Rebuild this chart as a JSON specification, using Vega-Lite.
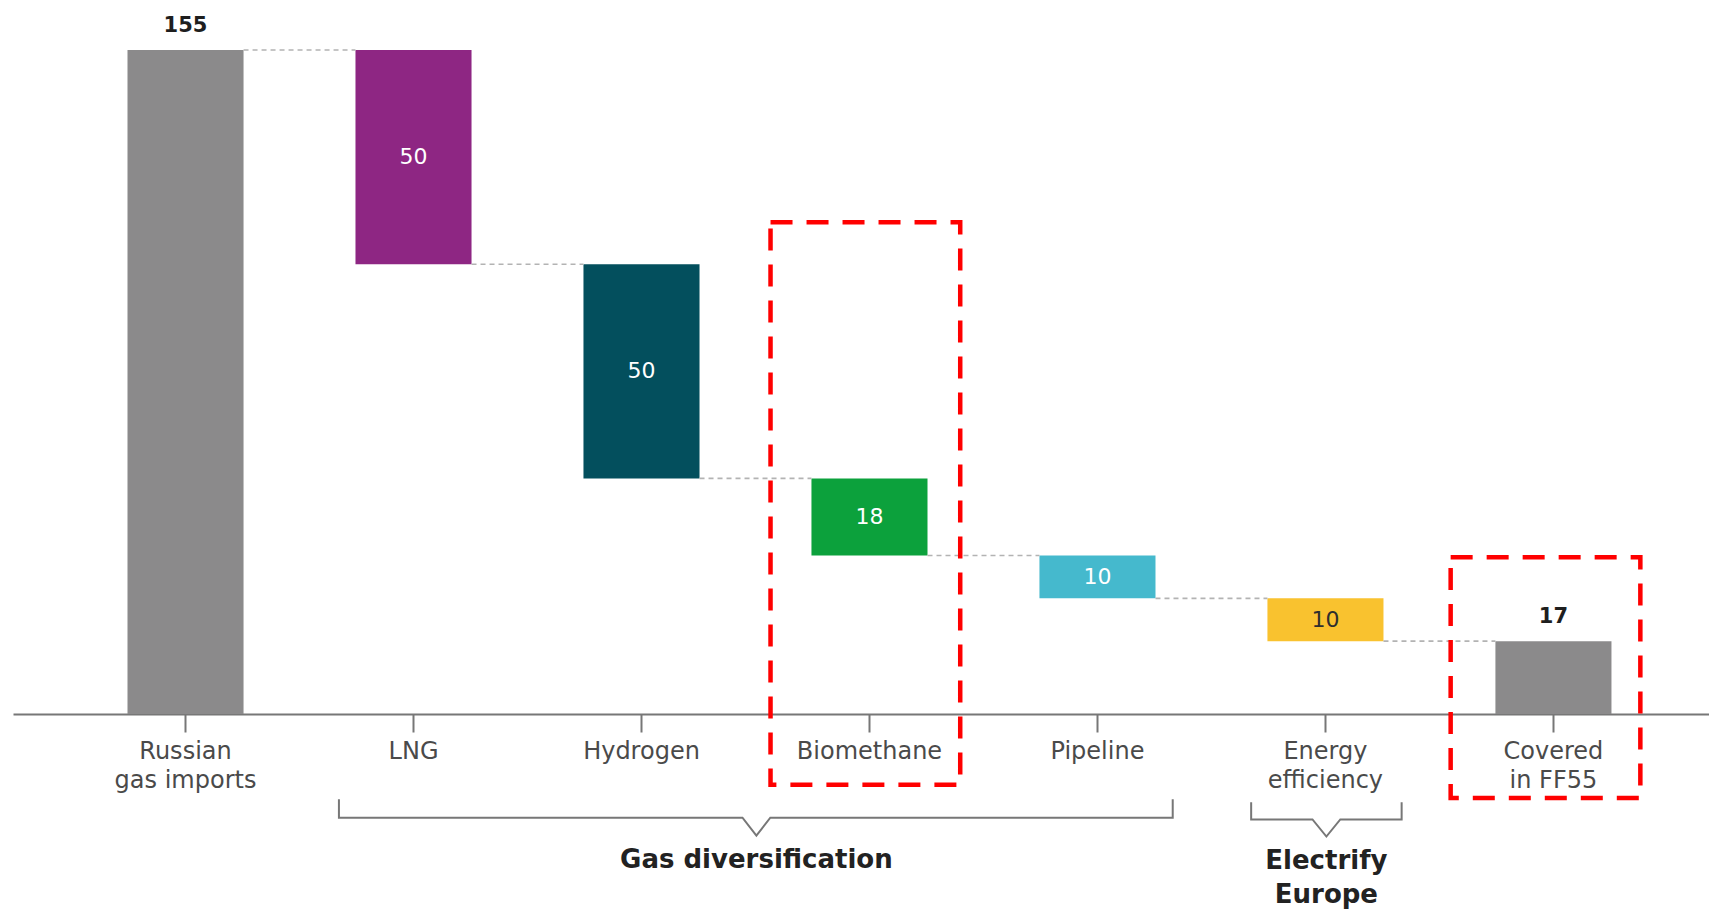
{
  "$schema": "https://vega.github.io/schema/vega-lite/v6.json",
  "width": 1696,
  "height": 664,
  "autosize": "none",
  "padding": {"left": 13, "top": 50, "right": 0, "bottom": 195},
  "background": "white",
  "config": {"view": {"stroke": null}, "font": "DejaVu Sans"},
  "datasets": {
    "steps": [
      {"cat": "Russian gas imports", "kind": "total", "value": 155, "start": 0, "end": 155, "next": "LNG"},
      {"cat": "LNG", "kind": "step", "value": 50, "start": 155, "end": 105, "next": "Hydrogen"},
      {"cat": "Hydrogen", "kind": "step", "value": 50, "start": 105, "end": 55, "next": "Biomethane"},
      {"cat": "Biomethane", "kind": "step", "value": 18, "start": 55, "end": 37, "next": "Pipeline"},
      {"cat": "Pipeline", "kind": "step", "value": 10, "start": 37, "end": 27, "next": "Energy efficiency"},
      {"cat": "Energy efficiency", "kind": "step", "value": 10, "start": 27, "end": 17, "next": "Covered in FF55"},
      {"cat": "Covered in FF55", "kind": "total", "value": 17, "start": 0, "end": 17, "next": null}
    ],
    "bracketPath": [
      {"group": "Gas diversification", "o": 1, "px": 0.673, "py": -19.9},
      {"group": "Gas diversification", "o": 2, "px": 0.673, "py": -24.2},
      {"group": "Gas diversification", "o": 3, "px": 2.443, "py": -24.2},
      {"group": "Gas diversification", "o": 4, "px": 2.504, "py": -28.4},
      {"group": "Gas diversification", "o": 5, "px": 2.565, "py": -24.2},
      {"group": "Gas diversification", "o": 6, "px": 4.330, "py": -24.2},
      {"group": "Gas diversification", "o": 7, "px": 4.330, "py": -19.9},
      {"group": "Electrify Europe", "o": 1, "px": 4.674, "py": -20.6},
      {"group": "Electrify Europe", "o": 2, "px": 4.674, "py": -24.6},
      {"group": "Electrify Europe", "o": 3, "px": 4.943, "py": -24.6},
      {"group": "Electrify Europe", "o": 4, "px": 5.004, "py": -28.6},
      {"group": "Electrify Europe", "o": 5, "px": 5.065, "py": -24.6},
      {"group": "Electrify Europe", "o": 6, "px": 5.334, "py": -24.6},
      {"group": "Electrify Europe", "o": 7, "px": 5.334, "py": -20.6}
    ],
    "groupLabels": [
      {"group": "Gas diversification", "lines": ["Gas diversification"], "mx": 2.504, "my": -34.1},
      {"group": "Electrify Europe", "lines": ["Electrify", "Europe"], "mx": 5.004, "my": -34.2}
    ],
    "boxes": [
      {"box": "Biomethane", "x0": 2.566, "x1": 3.398, "y0": -16.5, "y1": 114.8},
      {"box": "Covered in FF55", "x0": 5.549, "x1": 6.381, "y0": -19.6, "y1": 36.6}
    ]
  },
  "resolve": {"scale": {"x": "independent"}},
  "layer": [
    {
      "data": {"name": "steps"},
      "layer": [
        {
          "mark": {"type": "bar"},
          "encoding": {
            "x": {"field": "cat", "type": "nominal",
              "scale": {"domain": ["Russian gas imports", "LNG", "Hydrogen", "Biomethane", "Pipeline", "Energy efficiency", "Covered in FF55"], "paddingInner": 0.491, "paddingOuter": 0.465, "align": 0.54, "round": false},
              "axis": {
                "title": null, "labelAngle": 0, "grid": false,
                "labelExpr": "datum.label == 'Russian gas imports' ? ['Russian', 'gas imports'] : datum.label == 'Energy efficiency' ? ['Energy', 'efficiency'] : datum.label == 'Covered in FF55' ? ['Covered', 'in FF55'] : datum.label",
                "labelFont": "DejaVu Sans", "labelFontSize": 24, "labelColor": "#4a4a4a",
                "labelLineHeight": 29, "labelPadding": 7, "labelOverlap": false, "labelBound": false,
                "tickSize": 18, "tickWidth": 2, "tickColor": "#777777",
                "domainColor": "#777777", "domainWidth": 2
              }},
            "y": {"field": "start", "type": "quantitative", "scale": {"domain": [0, 155], "nice": false, "zero": true}, "axis": null},
            "y2": {"field": "end"},
            "color": {"field": "cat", "type": "nominal", "legend": null,
              "scale": {"domain": ["Russian gas imports", "LNG", "Hydrogen", "Biomethane", "Pipeline", "Energy efficiency", "Covered in FF55"],
                "range": ["#8b8a8b", "#8e2683", "#034f5d", "#0ca13c", "#45b9cd", "#f9c22f", "#8b8a8b"]}}
          }
        },
        {
          "transform": [{"filter": "datum.next != null"}],
          "mark": {"type": "rule", "color": "#b3b3b3", "strokeWidth": 1.6, "strokeDash": [5, 4]},
          "encoding": {
            "x": {"field": "cat", "type": "nominal", "bandPosition": 1},
            "x2": {"field": "next", "bandPosition": 0},
            "y": {"field": "end", "type": "quantitative", "scale": {"domain": [0, 155], "nice": false, "zero": true}, "axis": null}
          }
        },
        {
          "transform": [{"filter": "datum.kind == 'total'"}],
          "mark": {"type": "text", "baseline": "alphabetic", "dy": -18, "fontSize": 21, "fontWeight": "bold", "color": "#1e1e1e"},
          "encoding": {
            "x": {"field": "cat", "type": "nominal"},
            "y": {"field": "end", "type": "quantitative", "scale": {"domain": [0, 155], "nice": false, "zero": true}, "axis": null},
            "text": {"field": "value", "type": "quantitative"}
          }
        },
        {
          "transform": [
            {"filter": "datum.kind == 'step'"},
            {"fold": ["start", "end"], "as": ["k", "v"]}
          ],
          "mark": {"type": "text", "baseline": "middle", "fontSize": 22},
          "encoding": {
            "x": {"field": "cat", "type": "nominal"},
            "y": {"aggregate": "mean", "field": "v", "type": "quantitative", "scale": {"domain": [0, 155], "nice": false, "zero": true}, "axis": null},
            "text": {"aggregate": "max", "field": "value", "type": "quantitative"},
            "color": {"condition": {"test": "datum.cat == 'Energy efficiency'", "value": "#2e2e2e"}, "value": "#ffffff"}
          }
        }
      ]
    },
    {
      "layer": [
        {
          "data": {"name": "bracketPath"},
          "mark": {"type": "line", "color": "#777777", "strokeWidth": 2},
          "encoding": {
            "x": {"field": "px", "type": "quantitative", "scale": {"domain": [-0.7565, 6.6821], "nice": false, "zero": false}, "axis": null},
            "y": {"field": "py", "type": "quantitative", "scale": {"domain": [0, 155], "nice": false, "zero": true}, "axis": null},
            "detail": {"field": "group", "type": "nominal"},
            "order": {"field": "o", "type": "quantitative"}
          }
        },
        {
          "data": {"name": "groupLabels"},
          "mark": {"type": "text", "baseline": "middle", "align": "center", "fontSize": 26, "fontWeight": "bold", "color": "#222222", "lineHeight": 34},
          "encoding": {
            "x": {"field": "mx", "type": "quantitative"},
            "y": {"field": "my", "type": "quantitative", "scale": {"domain": [0, 155], "nice": false, "zero": true}, "axis": null},
            "text": {"field": "lines"}
          }
        },
        {
          "data": {"name": "boxes"},
          "mark": {"type": "rect", "filled": false, "color": "#ff0000", "strokeWidth": 4.5, "strokeDash": [22, 14]},
          "encoding": {
            "x": {"field": "x0", "type": "quantitative"},
            "x2": {"field": "x1"},
            "y": {"field": "y0", "type": "quantitative", "scale": {"domain": [0, 155], "nice": false, "zero": true}, "axis": null},
            "y2": {"field": "y1"}
          }
        }
      ]
    }
  ]
}
